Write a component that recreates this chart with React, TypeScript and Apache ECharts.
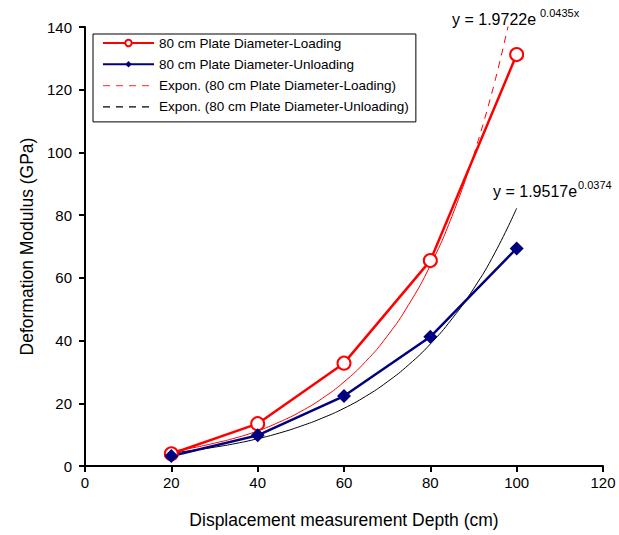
import React, { useEffect, useRef } from "react";
import * as echarts from "echarts";

const depths = [20, 40, 60, 80, 100];
const loading = [3.9, 13.5, 32.8, 65.5, 131.2];
const unloading = [3.2, 9.8, 22.3, 41.2, 69.4];

const trendX = [20, 25, 30, 35, 40, 45, 50, 55, 60, 65, 70, 75, 80, 85, 90];
const trendLoad = [4.7, 5.8, 7.3, 9.0, 11.2, 14.0, 17.4, 21.6, 26.8, 33.3, 41.4, 51.5, 64.0, 79.6, 98.9];
const trendLoadTopX = [90, 95, 100];
const trendLoadTop = [98.9, 122.9, 152.8];
const trendUnloadX = [20, 25, 30, 35, 40, 45, 50, 55, 60, 65, 70, 75, 80, 85, 90, 95, 100];
const trendUnload = [4.1, 5.0, 6.0, 7.2, 8.7, 10.5, 12.7, 15.3, 18.4, 22.2, 26.8, 32.3, 38.9, 46.9, 56.5, 68.1, 82.2];

const xTicks = { min: 0, max: 120, interval: 20 };
const yTicks = { min: 0, max: 140, interval: 20 };

const names = [
  "80 cm Plate Diameter-Loading",
  "80 cm Plate Diameter-Unloading",
  "Expon. (80 cm Plate Diameter-Loading)",
  "Expon. (80 cm Plate Diameter-Unloading)",
];

const FONT = "Liberation Sans, Arial, sans-serif";

const zip = (xs: number[], ys: number[]) => xs.map((x, i) => [x, ys[i]]);

export default function App() {
  const ref = useRef<HTMLDivElement>(null);
  useEffect(() => {
    if (!ref.current) return;
    const chart = echarts.init(ref.current, undefined, { renderer: "svg" });
    chart.setOption({
      animation: false,
      backgroundColor: "#fff",
      textStyle: { fontFamily: FONT },
      grid: { left: 85, right: 16, top: 27, bottom: 69 },
      xAxis: {
        type: "value",
        ...xTicks,
        name: "Displacement measurement Depth (cm)",
        nameLocation: "middle",
        nameGap: 45,
        nameTextStyle: { fontSize: 17.5, color: "#000", fontFamily: FONT },
        axisLine: { show: true, lineStyle: { color: "#000", width: 2 } },
        axisTick: { show: true, length: 6, lineStyle: { color: "#000", width: 2 } },
        axisLabel: { fontSize: 15, color: "#000", margin: 9, fontFamily: FONT },
        splitLine: { show: false },
      },
      yAxis: {
        type: "value",
        ...yTicks,
        name: "Deformation Modulus (GPa)",
        nameLocation: "middle",
        nameGap: 49,
        nameTextStyle: { fontSize: 17.5, color: "#000", fontFamily: FONT },
        axisLine: { show: true, onZero: false, lineStyle: { color: "#000", width: 2 } },
        axisTick: { show: true, length: 6, lineStyle: { color: "#000", width: 2 } },
        axisLabel: { fontSize: 15, color: "#000", margin: 13, fontFamily: FONT },
        splitLine: { show: false },
      },
      legend: {
        orient: "vertical",
        left: 93,
        top: 34,
        padding: [2, 7, 8, 9],
        borderColor: "#000",
        borderWidth: 1,
        backgroundColor: "#fff",
        itemWidth: 51,
        itemHeight: 8,
        itemGap: 7.3,
        textStyle: { fontSize: 13.5, color: "#000", fontFamily: FONT },
        data: [
          { name: names[0], itemStyle: { borderWidth: 1 } },
          { name: names[1] },
          {
            name: names[2],
            itemStyle: { opacity: 0 },
            lineStyle: { type: [7, 6], width: 1.2, color: "#ff5050" },
          },
          {
            name: names[3],
            itemStyle: { opacity: 0 },
            lineStyle: { type: [7, 6], width: 1.2, color: "#000" },
          },
        ],
      },
      series: [
        {
          name: names[2],
          type: "line",
          data: zip(trendX, trendLoad),
          smooth: true,
          symbol: "none",
          lineStyle: { color: "#ff0000", width: 1 },
          itemStyle: { color: "#ff0000" },
          z: 3,
        },
        {
          name: "trendTop",
          type: "line",
          data: zip(trendLoadTopX, trendLoadTop),
          smooth: true,
          symbol: "none",
          lineStyle: { color: "#ff0000", width: 1, type: [7, 6] },
          z: 3,
        },
        {
          name: names[3],
          type: "line",
          data: zip(trendUnloadX, trendUnload),
          smooth: true,
          symbol: "none",
          lineStyle: { color: "#000", width: 1 },
          itemStyle: { color: "#000" },
          z: 3,
        },
        {
          name: names[0],
          type: "line",
          data: zip(depths, loading),
          symbol: "emptyCircle",
          symbolSize: 13,
          lineStyle: { color: "#ff0000", width: 2.5 },
          itemStyle: { color: "#ff0000", borderColor: "#ff0000", borderWidth: 1 },
          z: 4,
        },
        {
          name: names[1],
          type: "line",
          data: zip(depths, unloading),
          symbol: "diamond",
          symbolSize: 14,
          lineStyle: { color: "#000080", width: 2.5 },
          itemStyle: { color: "#000080" },
          z: 4,
        },
      ],
      graphic: [
        {
          type: "text",
          left: 452,
          top: 11,
          style: { text: "y = 1.9722e", fontSize: 16, fill: "#000", fontFamily: FONT },
        },
        {
          type: "text",
          left: 540,
          top: 7,
          style: { text: "0.0435x", fontSize: 11, fill: "#000", fontFamily: FONT },
        },
        {
          type: "text",
          left: 493,
          top: 183,
          style: { text: "y = 1.9517e", fontSize: 16, fill: "#000", fontFamily: FONT },
        },
        {
          type: "text",
          left: 578,
          top: 179,
          style: { text: "0.0374", fontSize: 11, fill: "#000", fontFamily: FONT },
        },
      ],
    });
    return () => chart.dispose();
  }, []);
  return (
    <div
      ref={ref}
      style={{ position: "fixed", left: 0, top: 0, width: 619, height: 535 }}
    />
  );
}
